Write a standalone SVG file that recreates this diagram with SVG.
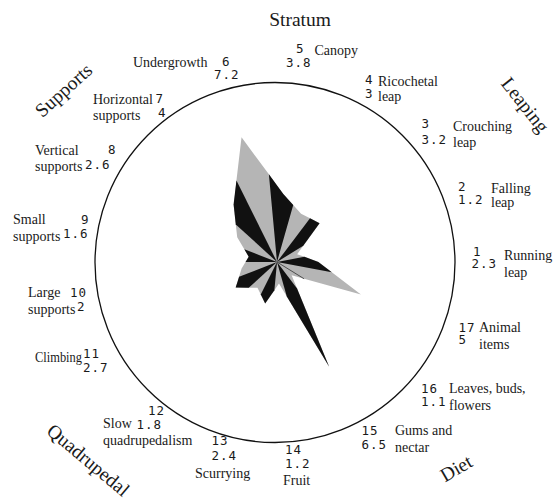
<svg xmlns="http://www.w3.org/2000/svg" width="554" height="501" viewBox="0 0 554 501">
<style>
.w{font-family:"Liberation Serif","Times New Roman",serif;font-size:14px;fill:#1a1a1a}
.n{font-family:"DejaVu Sans Mono","Liberation Mono",monospace;font-size:12.5px;fill:#1a1a1a;letter-spacing:1px}
.c{font-family:"Liberation Serif","Times New Roman",serif;font-size:19.5px;fill:#1a1a1a;text-anchor:middle}
.g{fill:#b5b5b5;stroke:none}
.k{fill:#111;stroke:none}
</style>
<rect width="554" height="501" fill="#fff"/>
<circle cx="275" cy="262.5" r="180" fill="none" stroke="#111" stroke-width="1.3"/>
<g id="star">
<polygon class="g" points="318.4,262 304.42,256.87 297.14,254.2 303.25,245.74 319.57,223.19 310.02,218.28 301.07,213.66 293.23,204.94 283.31,193.89 268.88,174.36 241.53,137.35 236.44,180.55 233.61,204.54 235.79,224.43 237.21,237.36 244.32,249.34 248.69,256.71 245.54,262 241.61,268.61 239.09,276.69 235.68,287.58 248.76,287.75 257.48,287.86 260.78,294.58 265.18,303.55 274.39,290.19 278.99,283.51 286.81,296.48 329.15,366.74 297.06,288.57 291.63,275.34 304.13,278.8 360.93,294.51 331.8,272.24"/>
<polygon class="k" points="277,262 331.8,272.24 318.4,262 304.42,256.87"/>
<polygon class="k" points="277,262 303.25,245.74 319.57,223.19 310.02,218.28"/>
<polygon class="k" points="277,262 293.23,204.94 283.31,193.89 268.88,174.36"/>
<polygon class="k" points="277,262 236.44,180.55 233.61,204.54 235.79,224.43"/>
<polygon class="k" points="277,262 244.32,249.34 248.69,256.71 245.54,262"/>
<polygon class="k" points="277,262 239.09,276.69 235.68,287.58 248.76,287.75"/>
<polygon class="k" points="277,262 260.78,294.58 265.18,303.55 274.39,290.19"/>
<polygon class="k" points="277,262 286.81,296.48 329.15,366.74 297.06,288.57"/>
<line x1="277" y1="262" x2="304.13" y2="278.8" stroke="#333" stroke-width="0.8"/>
</g>
<g id="categories">
<text class="c" x="68" y="95" transform="rotate(-42 68 95)">Supports</text>
<text class="c" x="300" y="26">Stratum</text>
<text class="c" x="520" y="109" transform="rotate(52 520 109)">Leaping</text>
<text class="c" x="84" y="465" transform="rotate(40 84 465)">Quadrupedal</text>
<text class="c" x="459.5" y="474" transform="rotate(-30 459.5 474)">Diet</text>
</g>
<g id="axis1"><text class="n" x="473" y="256">1</text><text class="n" x="471.5" y="268">2.3</text><text class="w" x="504" y="260">Running</text><text class="w" x="504" y="277">leap</text></g>
<g id="axis2"><text class="n" x="458" y="191">2</text><text class="n" x="458" y="204">1.2</text><text class="w" x="491" y="193">Falling</text><text class="w" x="491" y="207">leap</text></g>
<g id="axis3"><text class="n" x="421.5" y="128">3</text><text class="n" x="421.5" y="144">3.2</text><text class="w" x="453" y="131">Crouching</text><text class="w" x="453" y="147">leap</text></g>
<g id="axis4"><text class="n" x="365" y="84">4</text><text class="n" x="365" y="98">3</text><text class="w" x="378" y="86">Ricochetal</text><text class="w" x="378" y="101">leap</text></g>
<g id="axis5"><text class="n" x="296" y="53">5</text><text class="n" x="286" y="67">3.8</text><text class="w" x="314.5" y="55">Canopy</text></g>
<g id="axis6"><text class="w" x="133" y="67">Undergrowth</text><text class="n" x="222" y="66">6</text><text class="n" x="214" y="79">7.2</text></g>
<g id="axis7"><text class="w" x="93" y="104">Horizontal</text><text class="w" x="93" y="120">supports</text><text class="n" x="155.5" y="103">7</text><text class="n" x="158" y="117">4</text></g>
<g id="axis8"><text class="w" x="35" y="155">Vertical</text><text class="w" x="35" y="171">supports</text><text class="n" x="108" y="154">8</text><text class="n" x="85" y="168.5">2.6</text></g>
<g id="axis9"><text class="w" x="13" y="224">Small</text><text class="w" x="13" y="241">supports</text><text class="n" x="81" y="224">9</text><text class="n" x="63" y="237.5">1.6</text></g>
<g id="axis10"><text class="w" x="28" y="297">Large</text><text class="w" x="28" y="314">supports</text><text class="n" x="70" y="297">10</text><text class="n" x="77" y="311">2</text></g>
<g id="axis11"><text class="w" x="35" y="362" textLength="47" lengthAdjust="spacingAndGlyphs">Climbing</text><text class="n" x="83" y="358">11</text><text class="n" x="83" y="372">2.7</text></g>
<g id="axis12"><text class="w" x="103" y="428">Slow</text><text class="w" x="103" y="445">quadrupedalism</text><text class="n" x="148" y="415">12</text><text class="n" x="136.5" y="428.5">1.8</text></g>
<g id="axis13"><text class="n" x="211.5" y="445">13</text><text class="n" x="211.5" y="460">2.4</text><text class="w" x="195" y="478">Scurrying</text></g>
<g id="axis14"><text class="n" x="285" y="454">14</text><text class="n" x="285" y="467.5">1.2</text><text class="w" x="283" y="485">Fruit</text></g>
<g id="axis15"><text class="n" x="361.5" y="435">15</text><text class="n" x="361.5" y="448.5">6.5</text><text class="w" x="395" y="435">Gums and</text><text class="w" x="395" y="452">nectar</text></g>
<g id="axis16"><text class="n" x="421" y="393">16</text><text class="n" x="421" y="406">1.1</text><text class="w" x="449" y="393">Leaves, buds,</text><text class="w" x="449" y="410">flowers</text></g>
<g id="axis17"><text class="n" x="458.5" y="332">17</text><text class="n" x="458.5" y="344">5</text><text class="w" x="479" y="332">Animal</text><text class="w" x="479" y="349">items</text></g>
</svg>
